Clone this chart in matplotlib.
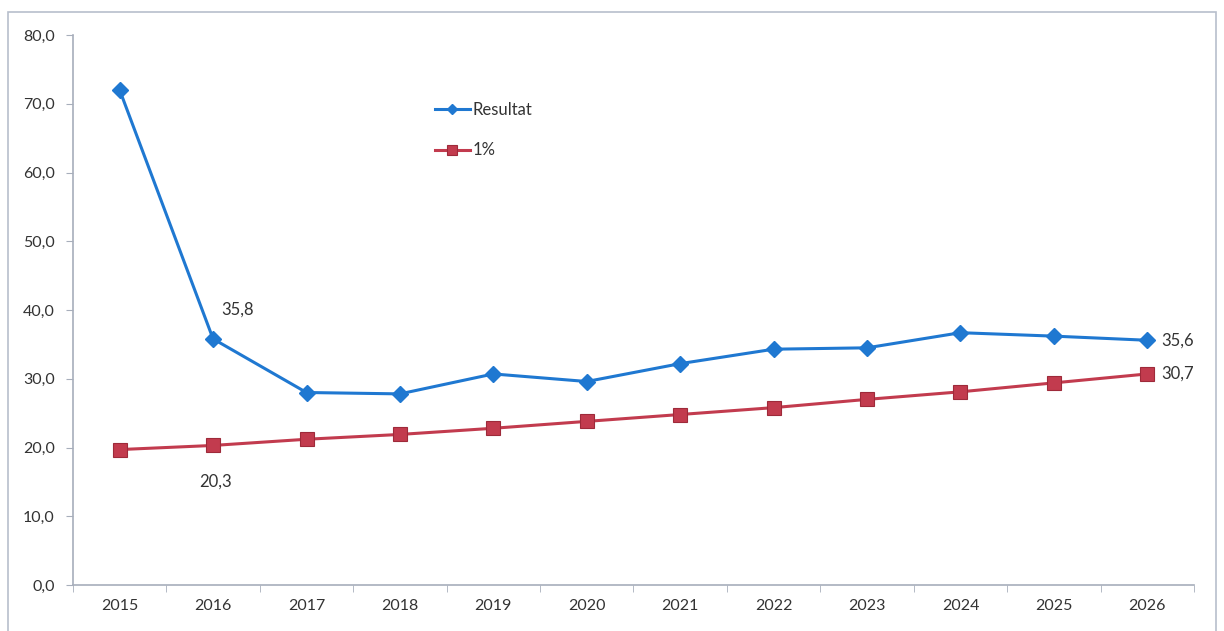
import matplotlib
matplotlib.use('Agg')
import matplotlib.pyplot as plt
from matplotlib.patches import Rectangle
import numpy as np

# ── data ──────────────────────────────────────────────────────────────────────
YEARS    = ['2015', '2016', '2017', '2018', '2019', '2020',
            '2021', '2022', '2023', '2024', '2025', '2026']
RESULTAT = [72.0, 35.8, 28.0, 27.8, 30.7, 29.6, 32.2, 34.3, 34.5, 36.7, 36.2, 35.6]
ONE_PCT  = [19.7, 20.3, 21.2, 21.9, 22.8, 23.8, 24.8, 25.8, 27.0, 28.1, 29.4, 30.7]
Y_TICKS  = [0, 10, 20, 30, 40, 50, 60, 70, 80]

BLUE   = '#1F78D1'
RED    = '#C23B4E'
AXIS_C = '#A7AEBB'
TEXT_C = '#333333'

plt.rcParams['font.family'] = ['Lato', 'DejaVu Sans']

fig = plt.figure(figsize=(12.24, 6.31), dpi=100)
ax = fig.add_axes([0.0596, 0.0729, 0.9159, 0.8716])

x = np.arange(len(YEARS))
ax.plot(x, RESULTAT, color=BLUE, lw=2.2, marker='D', ms=8,
        mfc=BLUE, mec=BLUE, label='Resultat', zorder=3)
ax.plot(x, ONE_PCT, color=RED, lw=2.2, marker='s', ms=10,
        mfc=RED, mec='#9E2A3A', mew=0.8, label='1%', zorder=3)

# value labels
ax.annotate(f'{RESULTAT[1]:.1f}'.replace('.', ','), (x[1], RESULTAT[1]),
            xytext=(6, 15), textcoords='offset points', fontsize=12,
            color=TEXT_C, ha='left', va='bottom')
ax.annotate(f'{ONE_PCT[1]:.1f}'.replace('.', ','), (x[1], ONE_PCT[1]),
            xytext=(-10, -20), textcoords='offset points', fontsize=12,
            color=TEXT_C, ha='left', va='top')
ax.annotate(f'{RESULTAT[-1]:.1f}'.replace('.', ','), (x[-1], RESULTAT[-1]),
            xytext=(10, 0), textcoords='offset points', fontsize=12,
            color=TEXT_C, ha='left', va='center')
ax.annotate(f'{ONE_PCT[-1]:.1f}'.replace('.', ','), (x[-1], ONE_PCT[-1]),
            xytext=(10, 0), textcoords='offset points', fontsize=12,
            color=TEXT_C, ha='left', va='center')

ax.set_xlim(-0.5, len(YEARS) - 0.5)
ax.set_ylim(0, 80)
ax.set_yticks(Y_TICKS)
ax.set_yticklabels([f'{v:.1f}'.replace('.', ',') for v in Y_TICKS])
ax.set_xticks(x)
ax.set_xticklabels(YEARS)
ax.set_xticks(np.arange(-0.5, len(YEARS)), minor=True)
ax.tick_params(axis='x', which='major', length=0, pad=10, labelsize=11.5, colors=TEXT_C)
ax.tick_params(axis='x', which='minor', length=5, color=AXIS_C, direction='out')
ax.tick_params(axis='y', length=5, color=AXIS_C, labelsize=11.5, colors=TEXT_C, pad=8)

for s in ['top', 'right']:
    ax.spines[s].set_visible(False)
for s in ['left', 'bottom']:
    ax.spines[s].set_color(AXIS_C)
    ax.spines[s].set_linewidth(1.2)

leg = ax.legend(loc='upper left', bbox_to_anchor=(0.317, 0.89), frameon=False,
                fontsize=12, handlelength=2.1, handletextpad=0.15,
                labelspacing=1.45, borderaxespad=0, markerscale=0.7)
for t in leg.get_texts():
    t.set_color(TEXT_C)

# outer chart border
fig.patches.append(Rectangle((8 / 1224, -0.02), 1208 / 1224, 1.0 - 12 / 631 + 0.02,
                             transform=fig.transFigure, fill=False,
                             edgecolor='#B8BFCC', lw=1.2))

fig.savefig('out.png', dpi=100)
